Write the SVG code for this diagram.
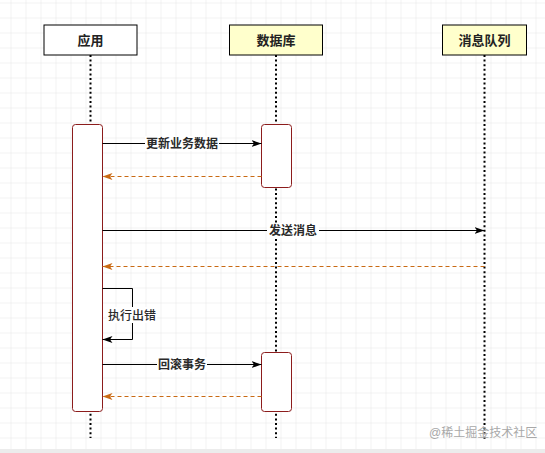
<svg xmlns="http://www.w3.org/2000/svg" width="545" height="453" viewBox="0 0 545 453">
<style>
text{font-family:"Liberation Sans","Noto Sans CJK SC",sans-serif;fill:#222}
.hd{font-size:13px;font-weight:bold;text-anchor:middle}
.lb{font-size:12px;text-anchor:middle;fill:#2a2a2a}
.b{font-weight:bold}
.m{font-weight:500}
.life{stroke:#000;stroke-width:2;stroke-dasharray:2 2.6;fill:none}
.act{fill:#fff;stroke:#8c1c1c;stroke-width:1}
.msg{stroke:#000;stroke-width:1;fill:none}
.ret{stroke:#c96a14;stroke-width:1;stroke-dasharray:4 3;fill:none}
</style>
<defs>
<pattern id="grid" width="15" height="15" patternUnits="userSpaceOnUse" x="10.5" y="2.5">
<path d="M0 0H15M0 0V15" stroke="#e6e6e6" stroke-width="1" fill="none"/>
</pattern>
<marker id="ab" markerWidth="11" markerHeight="8" refX="10" refY="3.5" orient="auto" markerUnits="userSpaceOnUse">
<path d="M0,0 L10,3.5 L0,7 L2.5,3.5 z" fill="#000"/>
</marker>
<marker id="ao" markerWidth="11" markerHeight="8" refX="10" refY="3.5" orient="auto" markerUnits="userSpaceOnUse">
<path d="M0,0 L10,3.5 L0,7 L2.5,3.5 z" fill="#c96a14"/>
</marker>
</defs>
<rect width="545" height="453" fill="#fff"/>
<rect width="545" height="453" fill="url(#grid)"/>
<rect x="0" y="449" width="545" height="4" fill="#ececec"/>

<g id="app">
<line class="life" x1="90.5" y1="55" x2="90.5" y2="438"/>
<rect x="44" y="25" width="93" height="30" fill="#fff" stroke="#000"/>
<text class="hd" x="90.5" y="45">应用</text>
</g>
<g id="db">
<line class="life" x1="276" y1="55" x2="276" y2="438"/>
<rect x="229.5" y="25" width="93" height="30" fill="#ffffcc" stroke="#000"/>
<text class="hd" x="276" y="45">数据库</text>
</g>
<g id="mq">
<line class="life" x1="484.5" y1="55" x2="484.5" y2="440"/>
<rect x="442.5" y="25" width="84" height="30" fill="#ffffcc" stroke="#000"/>
<text class="hd" x="484.5" y="45">消息队列</text>
</g>
<g id="app-act">
<rect class="act" x="72.5" y="124.5" width="30" height="287" rx="3"/>
</g>
<g id="db-act1">
<rect class="act" x="261.5" y="124.5" width="30" height="63" rx="3"/>
</g>
<g id="db-act2">
<rect class="act" x="261.5" y="352.5" width="30" height="59" rx="3"/>
</g>

<g id="connectors">
<line class="msg" x1="102.5" y1="143.5" x2="261.5" y2="143.5" marker-end="url(#ab)"/>
<rect x="145" y="136" width="74" height="15" fill="#fff"/>
<text class="lb b" x="182" y="148">更新业务数据</text>
<line class="ret" x1="261.5" y1="176.5" x2="102.5" y2="176.5" marker-end="url(#ao)"/>

<line class="msg" x1="102.5" y1="230.5" x2="484.5" y2="230.5" marker-end="url(#ab)"/>
<rect x="267" y="223" width="52" height="15" fill="#fff"/>
<text class="lb b" x="293" y="235">发送消息</text>
<line class="ret" x1="484.5" y1="266.5" x2="102.5" y2="266.5" marker-end="url(#ao)"/>

<path class="msg" d="M102.5 288.5H132.5V339.5H102.5" marker-end="url(#ab)"/>
<rect x="107" y="307" width="50" height="16" fill="#fff"/>
<text class="lb m" x="132" y="320">执行出错</text>

<line class="msg" x1="102.5" y1="364.5" x2="261.5" y2="364.5" marker-end="url(#ab)"/>
<rect x="157" y="357" width="50" height="15" fill="#fff"/>
<text class="lb b" x="182" y="369">回滚事务</text>
<line class="ret" x1="261.5" y1="396.5" x2="102.5" y2="396.5" marker-end="url(#ao)"/>
</g>
<text x="429" y="437" style="font-size:12px;fill:#a8a8a8">@稀土掘金技术社区</text>
</svg>
